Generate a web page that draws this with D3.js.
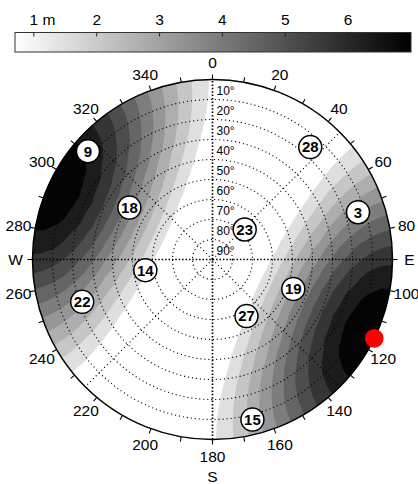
<!DOCTYPE html>
<html>
<head>
<meta charset="utf-8">
<script src="https://cdn.jsdelivr.net/npm/d3@7"></script>
<style>
  html, body { margin: 0; padding: 0; background: #fff; }
  svg { display: block; font-family: "Liberation Sans", Arial, Helvetica, sans-serif; }
</style>
</head>
<body>
<svg id="chart" width="418" height="484"></svg>
<script>
// ---- Data -----------------------------------------------------------------
// Path delay (m) on a sky grid: one row per elevation, one column per azimuth.
// Azimuth columns are unwrapped so the seam falls on the reflector axis.
const gridEl = [0, 5, 10, 15, 20, 25, 30, 40, 50, 60, 70, 80, 90];
const gridAz = [115, 125, 135, 145, 155, 165, 175, 185, 195, 205, 215, 225, 235,
  245, 255, 265, 275, 285, 295, 305, 315, 325, 335, 345, 355, 365, 375, 385,
  395, 405, 415, 425, 435, 445, 455, 465, 475];
const skyGrid = [
  [7.50,7.27,6.62,5.63,4.40,3.10,1.88,0.88,0.23,0,0.23,0.88,1.88,3.10,4.40,5.63,6.62,7.27,7.50,7.27,6.62,5.63,4.40,3.10,1.88,0.88,0.23,0,0.23,0.88,1.88,3.10,4.40,5.63,6.62,7.27,7.50],
  [7.44,7.22,6.57,5.58,4.37,3.08,1.86,0.87,0.22,0,0.22,0.87,1.86,3.08,4.37,5.58,6.57,7.22,7.44,7.22,6.57,5.58,4.37,3.08,1.86,0.87,0.22,0,0.22,0.87,1.86,3.08,4.37,5.58,6.57,7.22,7.44],
  [7.27,7.05,6.42,5.46,4.27,3.01,1.82,0.85,0.22,0,0.22,0.85,1.82,3.01,4.27,5.46,6.42,7.05,7.27,7.05,6.42,5.46,4.27,3.01,1.82,0.85,0.22,0,0.22,0.85,1.82,3.01,4.27,5.46,6.42,7.05,7.27],
  [7.00,6.79,6.18,5.25,4.11,2.89,1.75,0.82,0.21,0,0.21,0.82,1.75,2.89,4.11,5.25,6.18,6.79,7.00,6.79,6.18,5.25,4.11,2.89,1.75,0.82,0.21,0,0.21,0.82,1.75,2.89,4.11,5.25,6.18,6.79,7.00],
  [6.62,6.42,5.85,4.97,3.89,2.74,1.66,0.77,0.20,0,0.20,0.77,1.66,2.74,3.89,4.97,5.85,6.42,6.62,6.42,5.85,4.97,3.89,2.74,1.66,0.77,0.20,0,0.20,0.77,1.66,2.74,3.89,4.97,5.85,6.42,6.62],
  [6.16,5.97,5.44,4.62,3.62,2.55,1.54,0.72,0.19,0,0.19,0.72,1.54,2.55,3.62,4.62,5.44,5.97,6.16,5.97,5.44,4.62,3.62,2.55,1.54,0.72,0.19,0,0.19,0.72,1.54,2.55,3.62,4.62,5.44,5.97,6.16],
  [5.63,5.46,4.97,4.22,3.30,2.32,1.41,0.66,0.17,0,0.17,0.66,1.41,2.32,3.30,4.22,4.97,5.46,5.63,5.46,4.97,4.22,3.30,2.32,1.41,0.66,0.17,0,0.17,0.66,1.41,2.32,3.30,4.22,4.97,5.46,5.63],
  [4.40,4.27,3.89,3.30,2.58,1.82,1.10,0.51,0.13,0,0.13,0.51,1.10,1.82,2.58,3.30,3.89,4.27,4.40,4.27,3.89,3.30,2.58,1.82,1.10,0.51,0.13,0,0.13,0.51,1.10,1.82,2.58,3.30,3.89,4.27,4.40],
  [3.10,3.01,2.74,2.32,1.82,1.28,0.77,0.36,0.09,0,0.09,0.36,0.77,1.28,1.82,2.32,2.74,3.01,3.10,3.01,2.74,2.32,1.82,1.28,0.77,0.36,0.09,0,0.09,0.36,0.77,1.28,1.82,2.32,2.74,3.01,3.10],
  [1.88,1.82,1.66,1.41,1.10,0.77,0.47,0.22,0.06,0,0.06,0.22,0.47,0.77,1.10,1.41,1.66,1.82,1.88,1.82,1.66,1.41,1.10,0.77,0.47,0.22,0.06,0,0.06,0.22,0.47,0.77,1.10,1.41,1.66,1.82,1.88],
  [0.88,0.85,0.77,0.66,0.51,0.36,0.22,0.10,0.03,0,0.03,0.10,0.22,0.36,0.51,0.66,0.77,0.85,0.88,0.85,0.77,0.66,0.51,0.36,0.22,0.10,0.03,0,0.03,0.10,0.22,0.36,0.51,0.66,0.77,0.85,0.88],
  [0.23,0.22,0.20,0.17,0.13,0.09,0.06,0.03,0.01,0,0.01,0.03,0.06,0.09,0.13,0.17,0.20,0.22,0.23,0.22,0.20,0.17,0.13,0.09,0.06,0.03,0.01,0,0.01,0.03,0.06,0.09,0.13,0.17,0.20,0.22,0.23],
  [0,0,0,0,0,0,0,0,0,0,0,0,0,0,0,0,0,0,0,0,0,0,0,0,0,0,0,0,0,0,0,0,0,0,0,0,0]
];
// Contour levels (m) and colour bar range / ticks
const levels = [1.5, 2.1, 2.7, 3.3, 3.9, 4.5, 5.1, 5.7, 6.3, 6.9];
const barDomain = [0.7, 7.0];
const barTicks = [1, 2, 3, 4, 5, 6];
const barLabels = ["1 m", "2", "3", "4", "5", "6"];

// Satellites: PRN, azimuth (deg), elevation (deg)
const satPrn = ["9", "18", "14", "22", "28", "3", "23", "19", "27", "15"];
const satAz  = [311, 302, 261, 252, 41, 72, 47, 110, 149, 166];
const satEl  = [7.5, 41, 56, 21.5, 15.5, 13.5, 68, 47, 57, 7.5];

// Reflector direction
const reflAz = [116];
const reflEl = [0];

// Axis annotations
const ringEls = [10, 20, 30, 40, 50, 60, 70, 80];
const elevLabels = [10, 20, 30, 40, 50, 60, 70, 80, 90];
const azLabelVals = [0, 20, 40, 60, 80, 100, 120, 140, 160, 180, 200, 220, 240, 260, 280, 300, 320, 340];
const compass = [{az: 90, t: "E"}, {az: 270, t: "W"}];

// ---- Layout ---------------------------------------------------------------
const svg = d3.select("#chart");
const cx = 212.5, cy = 259.5, R = 180;
const rScale = d3.scaleLinear().domain([90, 0]).range([0, R]);
const rad = d => d * Math.PI / 180;
function project(az, el, extra = 0) {
  const r = rScale(el) + extra;
  return [cx + r * Math.sin(rad(az)), cy - r * Math.cos(rad(az))];
}

// ---- Contour fill ---------------------------------------------------------
const color = d3.scaleLinear().domain(barDomain).range(["#ffffff", "#000000"]).clamp(true);
const nx = gridAz.length, ny = gridEl.length;
const azAt = d3.scaleLinear().domain([0, nx - 1]).range([gridAz[0], gridAz[nx - 1]]);
const elAt = d3.scaleLinear().domain(d3.range(ny)).range(gridEl);
const toScreen = (gx, gy) => project(azAt(gx - 0.5), Math.min(90, elAt(gy - 0.5)));

const bands = d3.contours().size([nx, ny]).thresholds(levels)(skyGrid.flat());

function ringPath(ring) {
  const pts = [];
  const steps = 8;
  for (let i = 0; i < ring.length - 1; i++) {
    const [x0, y0] = ring[i], [x1, y1] = ring[i + 1];
    for (let k = 0; k < steps; k++) {
      const t = k / steps;
      pts.push(toScreen(x0 + (x1 - x0) * t, y0 + (y1 - y0) * t));
    }
  }
  return "M" + pts.map(p => p[0].toFixed(2) + "," + p[1].toFixed(2)).join("L") + "Z";
}

svg.append("clipPath").attr("id", "sky")
  .append("circle").attr("cx", cx).attr("cy", cy).attr("r", R);

const fillG = svg.append("g").attr("clip-path", "url(#sky)");
fillG.append("circle").attr("cx", cx).attr("cy", cy).attr("r", R).attr("fill", "#fff");
fillG.selectAll("path.band")
  .data(bands)
  .join("path")
  .attr("class", "band")
  .attr("fill", d => color(d.value))
  .attr("stroke", d => color(d.value))
  .attr("stroke-width", 0.4)
  .attr("d", d => d.coordinates.map(poly => poly.map(ringPath).join("")).join(""));

// ---- Grid -----------------------------------------------------------------
const gridG = svg.append("g").attr("fill", "none").attr("stroke", "#000");
gridG.selectAll("circle.ring")
  .data(ringEls)
  .join("circle")
  .attr("class", "ring")
  .attr("cx", cx).attr("cy", cy)
  .attr("r", d => rScale(d))
  .attr("stroke-width", 1.1)
  .attr("stroke-dasharray", "1.1,2.9");

gridG.selectAll("line.diag")
  .data([45, 135, 225, 315])
  .join("line")
  .attr("class", "diag")
  .attr("x1", cx).attr("y1", cy)
  .attr("x2", d => project(d, 0)[0])
  .attr("y2", d => project(d, 0)[1])
  .attr("stroke-width", 1.1)
  .attr("stroke-dasharray", "1.1,2.9");

gridG.selectAll("line.cross")
  .data([0, 90])
  .join("line")
  .attr("class", "cross")
  .attr("x1", d => project(d + 180, 0)[0])
  .attr("y1", d => project(d + 180, 0)[1])
  .attr("x2", d => project(d, 0)[0])
  .attr("y2", d => project(d, 0)[1])
  .attr("stroke-width", 1.7)
  .attr("stroke-dasharray", "1.5,1.9");

// Outer frame and azimuth ticks
svg.append("circle").attr("cx", cx).attr("cy", cy).attr("r", R)
  .attr("fill", "none").attr("stroke", "#000").attr("stroke-width", 1.5);

svg.append("g").selectAll("line")
  .data(d3.range(0, 360, 10))
  .join("line")
  .attr("x1", d => project(d, 0)[0]).attr("y1", d => project(d, 0)[1])
  .attr("x2", d => project(d, 0, 5)[0]).attr("y2", d => project(d, 0, 5)[1])
  .attr("stroke", "#000").attr("stroke-width", 1.1);

// Azimuth labels
const azG = svg.append("g").attr("font-size", 15.5).attr("text-anchor", "middle").attr("fill", "#000");
azG.selectAll("text.az")
  .data(azLabelVals)
  .join("text")
  .attr("class", "az")
  .attr("x", d => project(d, 0, 17)[0])
  .attr("y", d => project(d, 0, 17)[1])
  .attr("dy", "0.36em")
  .text(d => d);
azG.selectAll("text.cmp")
  .data(compass)
  .join("text")
  .attr("class", "cmp")
  .attr("x", d => project(d.az, 0, 17)[0])
  .attr("y", d => project(d.az, 0, 17)[1])
  .attr("dy", "0.36em")
  .text(d => d.t);
azG.append("text")
  .attr("x", project(180, 0, 37)[0])
  .attr("y", project(180, 0, 37)[1])
  .attr("dy", "0.36em")
  .text("S");

// Elevation labels along the north axis
svg.append("g").attr("font-size", 12).attr("fill", "#000")
  .selectAll("text")
  .data(elevLabels)
  .join("text")
  .attr("x", cx + 4)
  .attr("y", d => cy - rScale(d) - 9.3)
  .attr("dy", "0.36em")
  .text(d => d + "\u00b0");

// ---- Satellites -----------------------------------------------------------
const sats = satPrn.map((p, i) => ({ prn: p, az: satAz[i], el: satEl[i] }));
const satG = svg.append("g").selectAll("g")
  .data(sats)
  .join("g")
  .attr("transform", d => `translate(${project(d.az, d.el)})`);
satG.append("circle").attr("r", 11.5)
  .attr("fill", "#fff").attr("stroke", "#000").attr("stroke-width", 1.5);
satG.append("text")
  .attr("text-anchor", "middle").attr("dy", "0.36em")
  .attr("font-size", 15).attr("font-weight", "bold")
  .text(d => d.prn);

// Reflector marker
svg.append("g").selectAll("circle")
  .data(reflAz.map((a, i) => ({ az: a, el: reflEl[i] })))
  .join("circle")
  .attr("cx", d => project(d.az, d.el)[0])
  .attr("cy", d => project(d.az, d.el)[1])
  .attr("r", 9.3)
  .attr("fill", "#ff0000");

// ---- Colour bar -----------------------------------------------------------
const bx = d3.scaleLinear().domain(barDomain).range([15, 411]);
const barY = 32.5, barH = 19.5;
const grad = svg.append("defs").append("linearGradient").attr("id", "barGrad")
  .attr("x1", "0%").attr("x2", "100%").attr("y1", "0%").attr("y2", "0%");
grad.append("stop").attr("offset", "0%").attr("stop-color", color(barDomain[0]));
grad.append("stop").attr("offset", "100%").attr("stop-color", color(barDomain[1]));
svg.append("rect")
  .attr("x", bx(barDomain[0])).attr("y", barY)
  .attr("width", bx(barDomain[1]) - bx(barDomain[0])).attr("height", barH)
  .attr("fill", "url(#barGrad)").attr("stroke", "#333").attr("stroke-width", 1);
svg.append("g").selectAll("line")
  .data(barTicks)
  .join("line")
  .attr("x1", d => bx(d)).attr("x2", d => bx(d))
  .attr("y1", barY).attr("y2", barY + 4)
  .attr("stroke", "#222").attr("stroke-width", 1);
svg.append("g").attr("font-size", 15.5).attr("fill", "#000")
  .selectAll("text")
  .data(barTicks)
  .join("text")
  .attr("x", (d, i) => i === 0 ? bx(d) - 4.3 : bx(d))
  .attr("y", 25)
  .attr("text-anchor", (d, i) => i === 0 ? "start" : "middle")
  .text((d, i) => barLabels[i]);
</script>
</body>
</html>
